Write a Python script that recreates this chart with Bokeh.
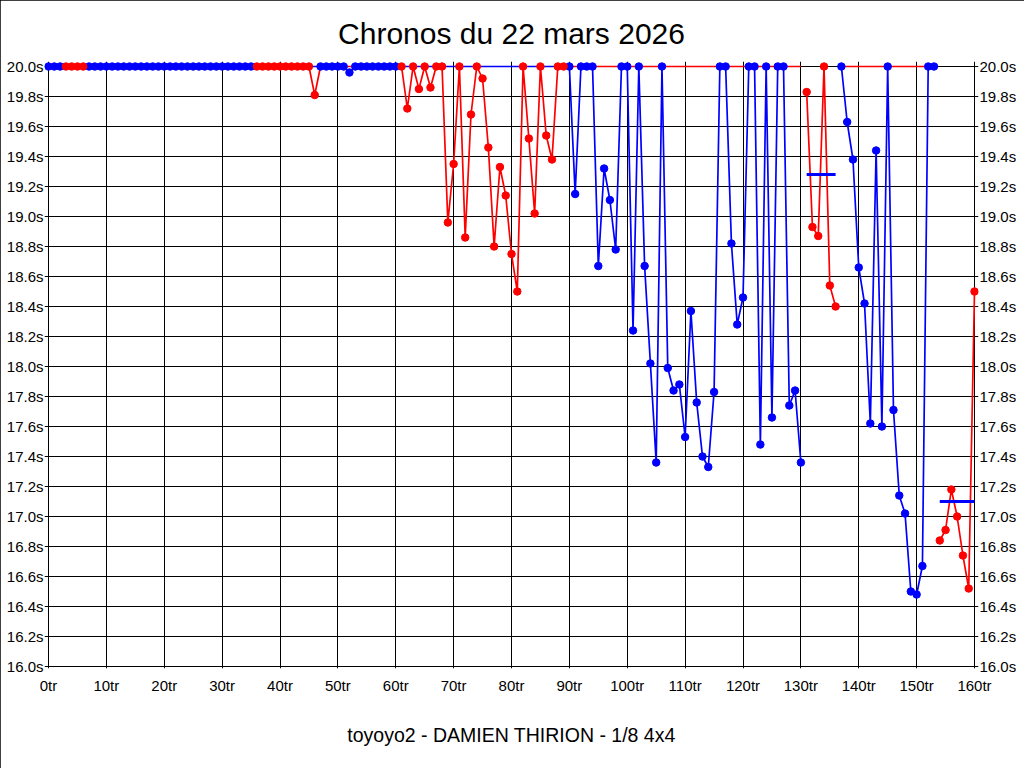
import math
from bokeh.plotting import figure
from bokeh.models import Range1d, FixedTicker, PrintfTickFormatter, LinearAxis, ColumnDataSource
from bokeh.embed import file_html
from bokeh.resources import INLINE

# ---------------- data ----------------
title_text = "Chronos du 22 mars 2026"
caption_text = "toyoyo2 - DAMIEN THIRION - 1/8 4x4"

laps = list(range(161))
cap = 20.0  # slower laps are shown at the top of the scale

lap_times = [
    20.0, 20.0, 20.0, 20.0, 20.0, 20.0, 20.0, 20.0, 20.0, 20.0,
    20.0, 20.0, 20.0, 20.0, 20.0, 20.0, 20.0, 20.0, 20.0, 20.0,
    20.0, 20.0, 20.0, 20.0, 20.0, 20.0, 20.0, 20.0, 20.0, 20.0,
    20.0, 20.0, 20.0, 20.0, 20.0, 20.0, 20.0, 20.0, 20.0, 20.0,
    20.0, 20.0, 20.0, 20.0, 20.0, 20.0, 19.81, 20.0, 20.0, 20.0,
    20.0, 20.0, 19.96, 20.0, 20.0, 20.0, 20.0, 20.0, 20.0, 20.0,
    20.0, 20.0, 19.72, 20.0, 19.85, 20.0, 19.86, 20.0, 20.0, 18.96,
    19.35, 20.0, 18.86, 19.68, 20.0, 19.92, 19.46, 18.80, 19.33, 19.14,
    18.75, 18.50, 20.0, 19.52, 19.02, 20.0, 19.54, 19.38, 20.0, 20.0,
    20.0, 19.15, 20.0, 20.0, 20.0, 18.67, 19.32, 19.11, 18.78, 20.0,
    20.0, 18.24, 20.0, 18.67, 18.02, 17.36, 20.0, 17.99, 17.84, 17.88,
    17.53, 18.37, 17.76, 17.40, 17.33, 17.83, 20.0, 20.0, 18.82, 18.28,
    18.46, 20.0, 20.0, 17.48, 20.0, 17.66, 20.0, 20.0, 17.74, 17.84,
    17.36, 19.83, 18.93, 18.87, 20.0, 18.54, 18.40, 20.0, 19.63, 19.38,
    18.66, 18.42, 17.62, 19.44, 17.60, 20.0, 17.71, 17.14, 17.02, 16.50,
    16.48, 16.67, 20.0, 20.0, 16.84, 16.91, 17.18, 17.00, 16.74, 16.52,
    18.50,
]

# which series each lap belongs to: (series, first lap, last lap)
series_runs = [
    ("b", 0, 2), ("r", 3, 6), ("b", 7, 35), ("r", 36, 46), ("b", 47, 60),
    ("r", 61, 89), ("b", 90, 130), ("r", 131, 136), ("b", 137, 153), ("r", 154, 160),
]

# continuous stretches of each series' line
red_segments = [(0, 130), (131, 136), (137, 153), (154, 160)]
blue_segments = [(0, 130), (137, 153)]

# average bars
bar_start = [131, 154]
bar_end = [136, 160]
bar_value = [19.28, 17.10]

x_ticks = [0, 10, 20, 30, 40, 50, 60, 70, 80, 90, 100, 110, 120, 130, 140, 150, 160]
y_ticks = [16.0, 16.2, 16.4, 16.6, 16.8, 17.0, 17.2, 17.4, 17.6, 17.8, 18.0,
           18.2, 18.4, 18.6, 18.8, 19.0, 19.2, 19.4, 19.6, 19.8, 20.0]

RED = "#FF0000"
BLUE = "#0000FF"

# ---------------- derived ----------------
lap_side = [""] * len(laps)
for s, a, b in series_runs:
    for i in range(a, b + 1):
        lap_side[i] = s


def series_line(side, segments):
    xs, ys = [], []
    for a, b in segments:
        for i in range(a, b + 1):
            xs.append(laps[i])
            ys.append(lap_times[i] if lap_side[i] == side else cap)
        xs.append(float("nan"))
        ys.append(float("nan"))
    return xs, ys


# ---------------- figure ----------------
px_per_lap = 926 / 160.0
px_per_s = 150.0
pad_x = 4 / px_per_lap
x0, x1 = x_ticks[0] - pad_x, x_ticks[-1] + pad_x
y0, y1 = y_ticks[0] - 2 / px_per_s, y_ticks[-1] + 5 / px_per_s

p = figure(
    frame_width=934, frame_height=607,
    x_range=Range1d(x0, x1), y_range=Range1d(y0, y1),
    output_backend="svg", toolbar_location=None, tools="",
    min_border_left=44, min_border_right=46, min_border_top=61, min_border_bottom=100,
)
p.background_fill_color = "white"
p.border_fill_color = "white"
p.outline_line_color = None
p.styles = {"outline": "1px solid black", "outline-offset": "-1px"}

FONT = "Liberation Sans"

p.title.text = title_text
p.title.align = "center"
p.title.text_font = FONT
p.title.text_font_size = "30px"
p.title.text_font_style = "normal"
p.title.text_color = "black"
p.title.standoff = 23


def style_axis(ax, standoff):
    ax.axis_line_color = None
    ax.major_tick_in = 0
    ax.major_tick_out = 0
    ax.minor_tick_line_color = None
    ax.major_label_text_font = FONT
    ax.major_label_text_font_size = "15px"
    ax.major_label_text_color = "black"
    ax.major_label_standoff = standoff


p.xaxis.ticker = FixedTicker(ticks=x_ticks)
p.xaxis.formatter = PrintfTickFormatter(format="%dtr")
style_axis(p.xaxis[0], 8)
p.xaxis.axis_label = caption_text
p.xaxis.axis_label_text_font = FONT
p.xaxis.axis_label_text_font_size = "19.5px"
p.xaxis.axis_label_text_font_style = "normal"
p.xaxis.axis_label_text_color = "black"
p.xaxis.axis_label_standoff = 27

p.yaxis.ticker = FixedTicker(ticks=y_ticks)
p.yaxis.formatter = PrintfTickFormatter(format="%.1fs")
style_axis(p.yaxis[0], 1)

right = LinearAxis(ticker=FixedTicker(ticks=y_ticks), formatter=PrintfTickFormatter(format="%.1fs"))
style_axis(right, 1)
p.add_layout(right, "right")

p.xgrid.ticker = FixedTicker(ticks=x_ticks)
p.ygrid.ticker = FixedTicker(ticks=y_ticks)
p.grid.grid_line_color = "black"
p.grid.grid_line_alpha = 1.0
p.grid.grid_line_width = 1

bx, by = series_line("b", blue_segments)
rx, ry = series_line("r", red_segments)
p.line(bx, by, line_color=BLUE, line_width=1.7)
p.line(rx, ry, line_color=RED, line_width=1.7)

p.segment(x0=bar_start, y0=bar_value, x1=bar_end, y1=bar_value, line_color=BLUE, line_width=3)

blue_pts = ColumnDataSource(dict(
    x=[laps[i] for i in range(len(laps)) if lap_side[i] == "b"],
    y=[lap_times[i] for i in range(len(laps)) if lap_side[i] == "b"],
))
red_pts = ColumnDataSource(dict(
    x=[laps[i] for i in range(len(laps)) if lap_side[i] == "r"],
    y=[lap_times[i] for i in range(len(laps)) if lap_side[i] == "r"],
))
p.scatter("x", "y", source=blue_pts, marker="circle", size=7.5, fill_color=BLUE, line_color=BLUE)
p.scatter("x", "y", source=red_pts, marker="circle", size=7.5, fill_color=RED, line_color=RED)

open("out.html", "w").write(file_html(p, INLINE))
